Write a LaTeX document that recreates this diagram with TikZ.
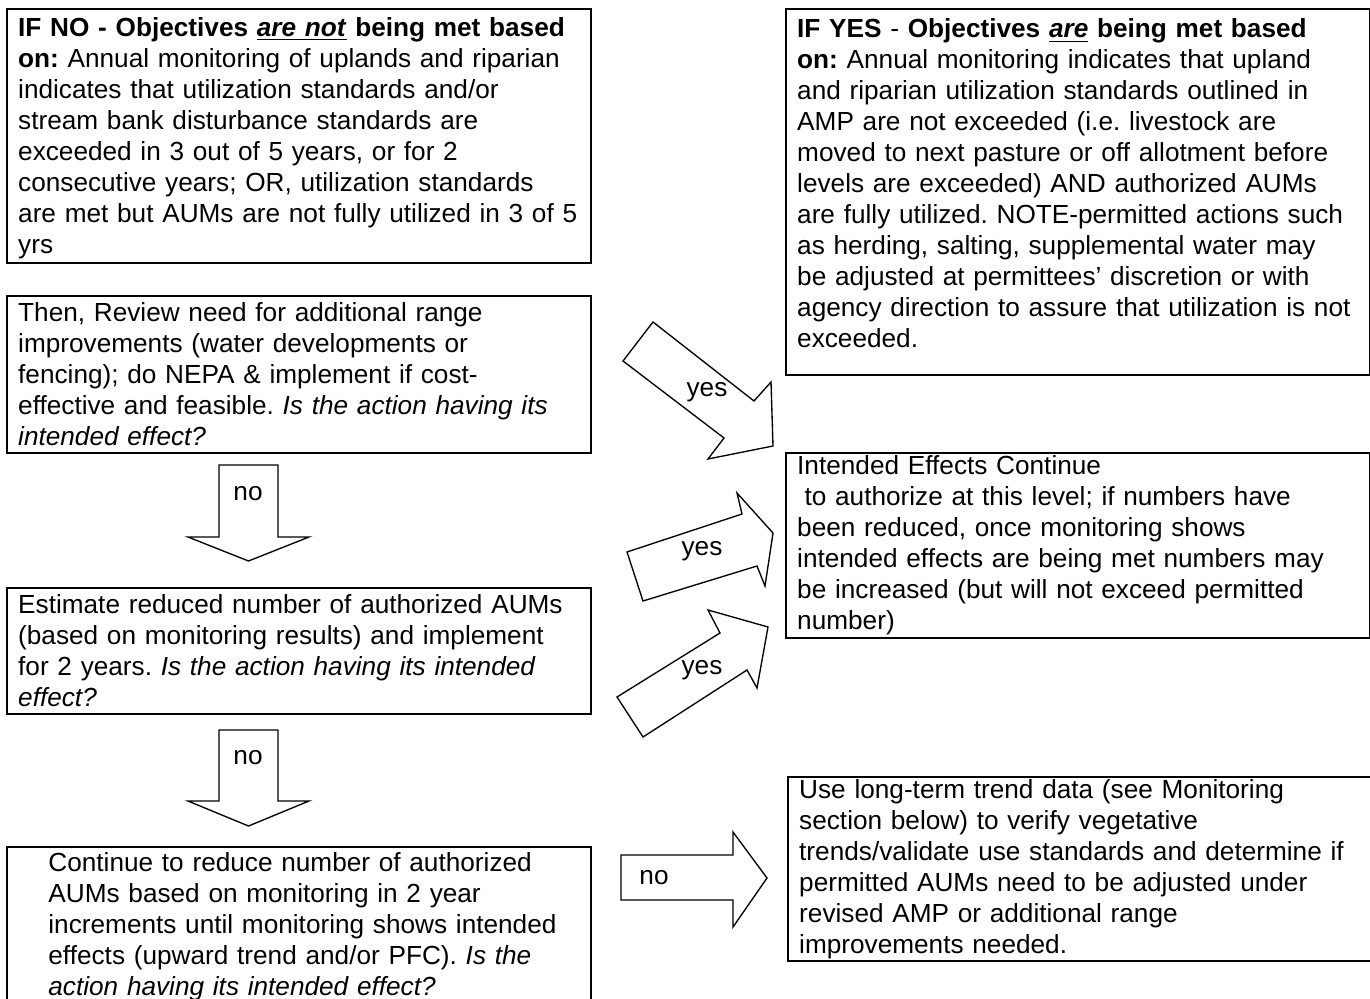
\documentclass[tikz,border=0pt]{standalone}
\usepackage{fontspec}
\setmainfont{Liberation Sans}
\usepackage{tikz}
\frenchspacing
\newcommand{\boxfont}{\fontsize{11.7pt}{13.85pt}\selectfont\frenchspacing}

\begin{document}
\begin{tikzpicture}[x=0.4467pt,y=0.4467pt,yscale=-1,xscale=1,
    box/.style={draw, line width=0.9pt, anchor=north west, align=left, text width=251pt, inner xsep=5pt, inner ysep=3pt, font=\boxfont},
    blockarrow/.style={draw, line width=0.6pt, line join=miter, fill=white},
    lbl/.style={font=\boxfont, inner sep=0pt}]
    \useasboundingbox (0,0) rectangle (1370,998);

    % Text Node
    \node [box, inner ysep=2pt, minimum height=113.5pt] (ifno) at (6,8) {\rule{0pt}{10.3pt}\textbf{IF NO - Objectives \underline{\textit{are not}} being met based}\\
        \textbf{on:} Annual monitoring of uplands and riparian\\
        indicates that utilization standards and/or\\
        stream bank disturbance standards are\\
        exceeded in 3 out of 5 years, or for 2\\
        consecutive years; OR, utilization standards\\
        are met but AUMs are not fully utilized in 3 of 5\\
        yrs};
    % Text Node
    \node [box, minimum height=69.7pt] (review) at (6,295) {Then, Review need for additional range\\
        improvements (water developments or\\
        fencing); do NEPA \& implement if cost-\\
        effective and feasible. \textit{Is the action having its}\\
        \textit{intended effect?}};
    % Text Node
    \node [box, minimum height=55.8pt] (estimate) at (6,587) {Estimate reduced number of authorized AUMs\\
        (based on monitoring results) and implement\\
        for 2 years. \textit{Is the action having its intended}\\
        \textit{effect?}};
    % Text Node
    \node [box, inner ysep=2pt, minimum height=71.5pt] (reduce) at (6,846) {\hspace*{13.5pt}Continue to reduce number of authorized\\
        \hspace*{13.5pt}AUMs based on monitoring in 2 year\\
        \hspace*{13.5pt}increments until monitoring shows intended\\
        \hspace*{13.5pt}effects (upward trend and/or PFC). \textit{Is the}\\
        \hspace*{13.5pt}\textit{action having its intended effect?}};

    % Text Node
    \node [box, inner ysep=4.3pt] (ifyes) at (785,8) {\textbf{IF YES} - \textbf{Objectives \underline{\textit{are}} being met based}\\
        \textbf{on:} Annual monitoring indicates that upland\\
        and riparian utilization standards outlined in\\
        AMP are not exceeded (i.e. livestock are\\
        moved to next pasture or off allotment before\\
        levels are exceeded) AND authorized AUMs\\
        are fully utilized. NOTE-permitted actions such\\
        as herding, salting, supplemental water may\\
        be adjusted at permittees’ discretion or with\\
        agency direction to assure that utilization is not\\
        exceeded.\rule[-8pt]{0pt}{0pt}};
    % Text Node
    \node [box, inner ysep=1pt, minimum height=82.6pt] (effects) at (785,452) {Intended Effects Continue\\
        \hspace*{3.3pt}to authorize at this level; if numbers have\\
        been reduced, once monitoring shows\\
        intended effects are being met numbers may\\
        be increased (but will not exceed permitted\\
        number)};
    % Text Node
    \node [box, inner ysep=1pt, minimum height=82.2pt] (trend) at (787,776) {Use long-term trend data (see Monitoring\\
        section below) to verify vegetative\\
        trends/validate use standards and determine if\\
        permitted AUMs need to be adjusted under\\
        revised AMP or additional range\\
        improvements needed.};

    %Shape: Down Arrow
    \draw [blockarrow] (219,465) -- (278,465) -- (278,537) -- (309,537) -- (248.5,561) -- (188,537) -- (219,537) -- cycle ;
    \node [lbl] (no1) at (248,494) {no};
    %Shape: Down Arrow
    \draw [blockarrow] (219,730) -- (278,730) -- (278,801) -- (309,801) -- (248.5,826) -- (188,801) -- (219,801) -- cycle ;
    \node [lbl] (no2) at (248,758) {no};
    %Shape: Right Arrow
    \draw [blockarrow] (621,855) -- (733,855) -- (733,832) -- (767,878) -- (733,927) -- (733,900) -- (621,900) -- cycle ;
    \node [lbl] (no3) at (654,878) {no};

    %Shape: Right Arrow [rotated]
    \draw [blockarrow] (653,322) -- (754,401) -- (771,382) -- (773,446) -- (708,459) -- (724,438) -- (623,361) -- cycle ;
    \node [lbl] (yes1) at (707,392) {yes};
    %Shape: Right Arrow [rotated]
    \draw [blockarrow] (627,552) -- (742,514) -- (737,493) -- (773,533) -- (765,586) -- (757,566) -- (643,601) -- cycle ;
    \node [lbl] (yes2) at (702,551) {yes};
    %Shape: Right Arrow [rotated]
    \draw [blockarrow] (617,697) -- (720,633) -- (708,610) -- (768,627) -- (757,688) -- (747,670) -- (643,737) -- cycle ;
    \node [lbl] (yes3) at (702,670) {yes};

\end{tikzpicture}
\end{document}
